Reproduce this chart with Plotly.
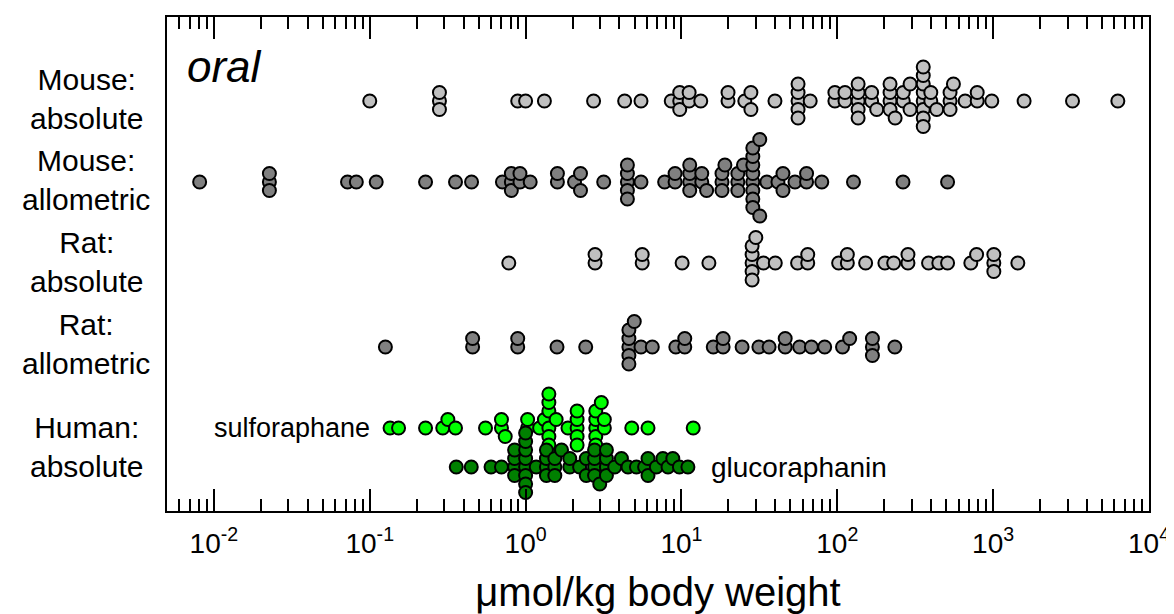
import numpy as np
import plotly.graph_objects as go

# ---------------- data (µmol/kg body weight, oral) ----------------
mouse_absolute = [0.1, 0.28, 0.28, 0.28, 0.89, 1.0, 1.32, 2.73, 4.32, 5.5,
                  8.6, 9.75, 9.75, 9.75, 11.2, 11.2, 13.3, 19.9, 19.9, 25.5, 27.9, 27.9,
                  39.8, 56, 56, 56, 56, 56, 67, 96.5, 96.5, 112, 112,
                  136, 136, 136, 136, 136, 166, 166, 179, 218, 218, 218, 218, 235,
                  265, 265, 293, 293, 356, 356, 356, 356, 356, 356, 356, 356,
                  398, 398, 434, 529, 529, 529, 556, 661, 790, 790, 980, 1580, 3230, 6310]
mouse_allometric = [0.0081, 0.0227, 0.0227, 0.0227, 0.072, 0.082, 0.11, 0.228, 0.355, 0.45,
                    0.71, 0.81, 0.81, 0.81, 0.92, 0.92, 1.07, 1.6, 1.6, 2.06, 2.25, 2.25, 3.17,
                    4.5, 4.5, 4.5, 4.5, 4.5, 5.5, 7.8, 9.1, 9.1, 11.3, 11.3, 11.3, 11.3,
                    13.5, 13.5, 14.5, 18.2, 18.2, 18.2, 19, 23, 23, 23, 25,
                    28.7, 28.7, 28.7, 28.7, 28.7, 28.7, 28.7, 28.7, 31.8, 31.8, 35.3,
                    41.6, 44.8, 44.8, 53.5, 63.5, 63.5, 79.5, 127, 264, 510]
rat_absolute = [0.78, 2.79, 2.79, 5.6, 5.6, 10.1, 15, 28.4, 28.4, 28.4, 28.4, 28.4,
                30, 33.6, 40, 55.6, 64.6, 64.6, 102, 116, 116, 152, 202, 230, 284, 284,
                385, 448, 510, 719, 783, 1010, 1010, 1010, 1440]
rat_allometric = [0.126, 0.457, 0.457, 0.89, 0.89, 1.59, 2.43, 4.6, 4.6, 4.6, 4.6, 4.6,
                  4.98, 5.5, 6.5, 9.2, 10.5, 10.5, 16, 18.5, 18.5, 24.5, 31.4, 36.5,
                  46.3, 46.3, 57.3, 68.2, 83, 108, 120, 168, 168, 168, 234]
human_sulforaphane = [0.135, 0.153, 0.228, 0.294, 0.317, 0.355, 0.553, 0.70, 0.70, 0.74,
                      1.03, 1.03, 1.23, 1.32, 1.41, 1.41, 1.41, 1.41, 1.41, 1.41, 1.41,
                      1.57, 1.87, 2.14, 2.14, 2.14, 2.14, 2.14, 2.82, 2.82, 2.82, 2.82, 2.82,
                      3.06, 3.2, 3.2, 4.8, 6.1, 11.9]
human_glucoraphanin = [0.359, 0.448, 0.60, 0.70, 0.85, 0.85, 0.85, 0.85,
                       1.0, 1.0, 1.0, 1.0, 1.0, 1.0, 1.0, 1.0, 1.17, 1.36, 1.36, 1.36, 1.36,
                       1.54, 1.54, 1.54, 1.7, 1.92, 1.92, 2.22, 2.45, 2.45,
                       2.77, 2.77, 2.77, 2.77, 2.99, 3.3, 3.3, 3.3, 3.3, 3.73, 4.12, 4.54,
                       5.14, 5.8, 6.1, 6.1, 6.9, 7.6, 8.2, 8.8, 9.7, 11]

row_labels = ["Mouse:<br>absolute", "Mouse:<br>allometric", "Rat:<br>absolute",
              "Rat:<br>allometric", "Human:<br>absolute"]
tick_values = [0.01, 0.1, 1, 10, 100, 1000, 10000]
tick_labels = ["10<sup>-2</sup>", "10<sup>-1</sup>", "10<sup>0</sup>", "10<sup>1</sup>",
               "10<sup>2</sup>", "10<sup>3</sup>", "10<sup>4</sup>"]

# ---------------- layout geometry (page pixels) ----------------
PAGE_W, PAGE_H = 1174, 614
OFF = 8                      # default body margin of the html page
W, H = PAGE_W - OFF, PAGE_H - OFF
PL, PR, PT, PB = 167, 1149, 17, 511   # plot-area edges on the page
ML, MR, MT, MB = PL - OFF, W - (PR - OFF), PT - OFF, H - (PB - OFF)
XMIN, XMAX = 0.005, 10000
PLOT_W = PR - PL
PX_PER_DEC = PLOT_W / (np.log10(XMAX) - np.log10(XMIN))

FONT = "Arial, Liberation Sans, sans-serif"


def swarm(values, step=8.5, dmin=7.5):
    """beeswarm vertical offsets (pixels) for log-scaled values"""
    px = np.log10(np.asarray(values, float)) * PX_PER_DEC
    order = np.argsort(px, kind="stable")
    placed = []
    off = np.zeros(len(px))
    cands = [0.0]
    for j in range(1, 30):
        cands += [-j * step, j * step]
    for i in order:
        for c in cands:
            ok = True
            for (qx, qy) in placed:
                if (px[i] - qx) ** 2 + (c - qy) ** 2 < dmin ** 2:
                    ok = False
                    break
            if ok:
                off[i] = c
                placed.append((px[i], c))
                break
    return off


series = [
    (mouse_absolute, 101, "#C0C0C0"),
    (mouse_allometric, 182, "#808080"),
    (rat_absolute, 263, "#C0C0C0"),
    (rat_allometric, 347, "#808080"),
    (human_sulforaphane, 428, "#00FF00"),
    (human_glucoraphanin, 467, "#008000"),
]
label_rows = [99, 180, 262, 344, 447]

fig = go.Figure()
for vals, yc, col in series:
    off = swarm(vals)
    fig.add_trace(go.Scatter(
        x=vals, y=yc + off, mode="markers",
        marker=dict(size=13, color=col, line=dict(color="black", width=2)),
        showlegend=False, hoverinfo="x",
    ))

# invisible trace for top mirror axis
fig.add_trace(go.Scatter(x=[1], y=[PT], xaxis="x2", mode="markers",
                         marker=dict(opacity=0), showlegend=False, hoverinfo="skip"))

logr = [np.log10(XMIN), np.log10(XMAX)]
axis_common = dict(
    type="log", range=logr, showgrid=False, zeroline=False,
    ticks="inside", ticklen=22, tickwidth=2, tickcolor="black",
    minor=dict(ticks="inside", ticklen=12, tickwidth=2, tickcolor="black", dtick="D1", showgrid=False),
    tickvals=tick_values,
)
fig.update_layout(
    width=W, height=H,
    margin=dict(l=ML, r=MR, t=MT, b=MB, autoexpand=False),
    paper_bgcolor="white", plot_bgcolor="white",
    font=dict(family=FONT, color="black"),
    xaxis=dict(**axis_common, ticktext=tick_labels, tickfont=dict(size=28),
               showline=True, linewidth=2, linecolor="black", mirror=True,
               ticklabelstandoff=6, automargin=False,
               title=dict(text="μmol/kg body weight", font=dict(size=40), standoff=23)),
    xaxis2=dict(**axis_common, overlaying="x", side="top", showticklabels=False,
                showline=True, linewidth=2, linecolor="black", anchor="y"),
    yaxis=dict(range=[PB, PT], showgrid=False, zeroline=False, showticklabels=False,
               ticks="", showline=True, linewidth=2, linecolor="black", mirror=True),
)

annotations = []
for lab, yc in zip(row_labels, label_rows):
    annotations.append(dict(text=lab, xref="paper", yref="y", x=(86 - PL) / PLOT_W, y=yc,
                            xanchor="center", yanchor="middle", align="center",
                            showarrow=False, font=dict(size=30, family=FONT)))
annotations.append(dict(text="<i>oral</i>", xref="paper", yref="y", x=(185 - PL) / PLOT_W, y=66,
                        xanchor="left", yanchor="middle", showarrow=False,
                        font=dict(size=44, family=FONT)))
annotations.append(dict(text="sulforaphane", xref="x", yref="y", x=np.log10(0.104), y=428,
                        xanchor="right", yanchor="middle", showarrow=False,
                        font=dict(size=27, family=FONT)))
annotations.append(dict(text="glucoraphanin", xref="x", yref="y", x=np.log10(15), y=467,
                        xanchor="left", yanchor="middle", showarrow=False,
                        font=dict(size=28, family=FONT)))
fig.update_layout(annotations=annotations)

fig.write_html("out.html")
